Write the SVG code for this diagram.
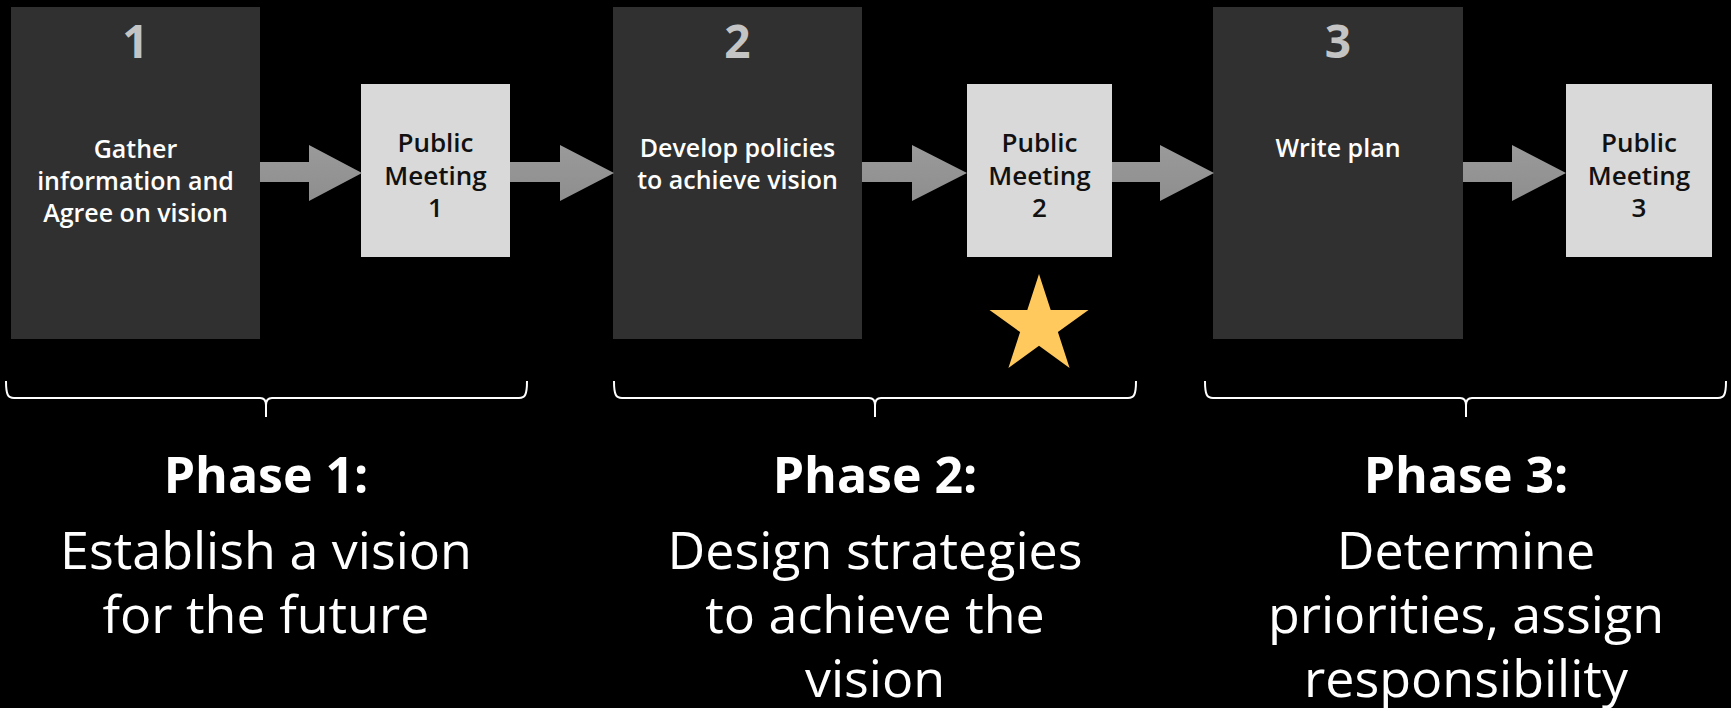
<svg xmlns="http://www.w3.org/2000/svg" width="1731" height="708" viewBox="0 0 1731 708">
  <defs>
    <style>
      .step { fill: #303030; }
      .meet { fill: #d9d9d9; }
      .num { font-family: "Open Sans", "Liberation Sans", sans-serif; font-weight: bold; font-size: 46px; fill: #c4c4c4; text-anchor: middle; }
      .stxt { font-family: "Open Sans", "Liberation Sans", sans-serif; font-weight: 600; font-size: 25px; fill: #ffffff; text-anchor: middle; }
      .mtxt { font-family: "Open Sans", "Liberation Sans", sans-serif; font-weight: 600; font-size: 26px; fill: #111111; text-anchor: middle; }
      .arrow { fill: url(#arrowFill); }
      .brace { fill: none; stroke: #ffffff; stroke-width: 2; }
      .ptitle { font-family: "Open Sans", "Liberation Sans", sans-serif; font-weight: bold; font-size: 50px; fill: #ffffff; text-anchor: middle; }
      .pdesc { font-family: "Open Sans", "Liberation Sans", sans-serif; font-size: 52px; fill: #ffffff; text-anchor: middle; }
    </style>
    <linearGradient id="arrowFill" x1="0" y1="0" x2="0" y2="1">
      <stop offset="0" stop-color="#9a9a9a"/>
      <stop offset="1" stop-color="#8e8e8e"/>
    </linearGradient>
  </defs>

  <rect width="1731" height="708" fill="#000000"/>

  <!-- phase 1 -->
  <g id="step1">
    <rect class="step" x="11" y="7" width="249" height="332"/>
    <text class="num" x="135.5" y="58">1</text>
    <text class="stxt" x="135.5" y="158">Gather</text>
    <text class="stxt" x="135.5" y="190">information and</text>
    <text class="stxt" x="135.5" y="222">Agree on vision</text>
  </g>
  <g id="meeting1">
    <rect class="meet" x="361" y="84" width="149" height="173"/>
    <text class="mtxt" x="435.5" y="152">Public</text>
    <text class="mtxt" x="435.5" y="185">Meeting</text>
    <text class="mtxt" x="435.5" y="217">1</text>
  </g>

  <!-- phase 2 -->
  <g id="step2">
    <rect class="step" x="613" y="7" width="249" height="332"/>
    <text class="num" x="737.5" y="58">2</text>
    <text class="stxt" x="737.5" y="157">Develop policies</text>
    <text class="stxt" x="737.5" y="189">to achieve vision</text>
  </g>
  <g id="meeting2">
    <rect class="meet" x="967" y="84" width="145" height="173"/>
    <text class="mtxt" x="1039.5" y="152">Public</text>
    <text class="mtxt" x="1039.5" y="185">Meeting</text>
    <text class="mtxt" x="1039.5" y="217">2</text>
  </g>
  <g id="star">
    <polygon fill="#ffc95e" points="1039,274 1050.7,309.9 1088.5,309.9 1057.9,332.1 1069.6,368 1039,345.8 1008.4,368 1020.1,332.1 989.5,309.9 1027.3,309.9"/>
  </g>

  <!-- phase 3 -->
  <g id="step3">
    <rect class="step" x="1213" y="7" width="250" height="332"/>
    <text class="num" x="1338" y="58">3</text>
    <text class="stxt" x="1338" y="157">Write plan</text>
  </g>
  <g id="meeting3">
    <rect class="meet" x="1566" y="84" width="146" height="173"/>
    <text class="mtxt" x="1639" y="152">Public</text>
    <text class="mtxt" x="1639" y="185">Meeting</text>
    <text class="mtxt" x="1639" y="217">3</text>
  </g>

  <!-- block arrows between steps -->
  <g id="connectors">
    <polygon class="arrow" points="260,162 309,162 309,145 362,173 309,201 309,182 260,182"/>
    <polygon class="arrow" points="510,162 560,162 560,145 614,173 560,201 560,182 510,182"/>
    <polygon class="arrow" points="862,162 912,162 912,145 967,173 912,201 912,182 862,182"/>
    <polygon class="arrow" points="1112,162 1160,162 1160,145 1214,173 1160,201 1160,182 1112,182"/>
    <polygon class="arrow" points="1463,162 1512,162 1512,145 1566,173 1512,201 1512,182 1463,182"/>
  </g>

  <!-- braces under each phase -->
  <g id="braces">
    <path class="brace" d="M6,381 C6,395 8,398 14,398 L260,398 Q266,398 266,405 L266,417 M266,405 Q266,398 272,398 L519,398 C525,398 527,395 527,381"/>
    <path class="brace" d="M614,381 C614,395 616,398 622,398 L869,398 Q875,398 875,405 L875,417 M875,405 Q875,398 881,398 L1128,398 C1134,398 1136,395 1136,381"/>
    <path class="brace" d="M1205,381 C1205,395 1207,398 1213,398 L1460,398 Q1466,398 1466,405 L1466,417 M1466,405 Q1466,398 1472,398 L1718,398 C1724,398 1726,395 1726,381"/>
  </g>

  <!-- phase captions -->
  <g id="phase1">
    <text class="ptitle" x="266" y="493">Phase 1:</text>
    <text class="pdesc" x="266" y="569">Establish a vision</text>
    <text class="pdesc" x="266" y="633">for the future</text>
  </g>
  <g id="phase2">
    <text class="ptitle" x="875" y="493">Phase 2:</text>
    <text class="pdesc" x="875" y="569">Design strategies</text>
    <text class="pdesc" x="875" y="633">to achieve the</text>
    <text class="pdesc" x="875" y="697">vision</text>
  </g>
  <g id="phase3">
    <text class="ptitle" x="1466" y="493">Phase 3:</text>
    <text class="pdesc" x="1466" y="569">Determine</text>
    <text class="pdesc" x="1466" y="633">priorities, assign</text>
    <text class="pdesc" x="1466" y="697">responsibility</text>
  </g>
</svg>
